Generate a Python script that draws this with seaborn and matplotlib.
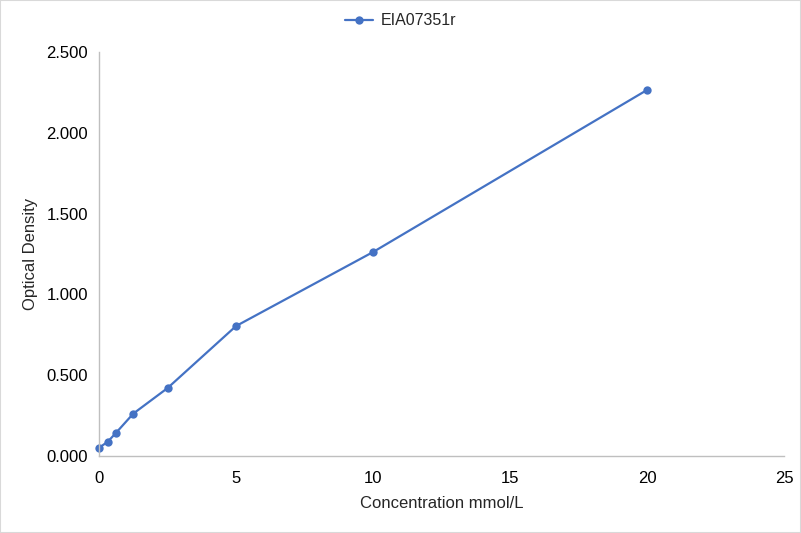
import matplotlib
matplotlib.use('Agg')
import seaborn as sns
import pandas as pd
from matplotlib import pyplot as plt

# standard curve data
concentration = [0, 0.3125, 0.625, 1.25, 2.5, 5, 10, 20]
optical_density = [0.051, 0.087, 0.144, 0.262, 0.420, 0.804, 1.262, 2.265]
series_name = 'EIA07351r'
x_ticks = [0, 5, 10, 15, 20, 25]
y_ticks = [0, 0.5, 1.0, 1.5, 2.0, 2.5]

sns.set_style('white')
plt.rcParams['font.family'] = ['Liberation Sans', 'DejaVu Sans']

df = pd.DataFrame({'x': concentration, 'y': optical_density, 's': series_name})

fig = plt.figure(figsize=(8.01, 5.33), dpi=100)
ax = fig.add_axes([0.1236, 0.1445, 0.9788 - 0.1236, 0.9024 - 0.1445])
sns.lineplot(data=df, x='x', y='y', hue='s', palette=['#4472C4'], marker='o',
             markersize=6, markeredgewidth=0, linewidth=1.6, ax=ax)
for ln in ax.lines:
    ln.set_clip_on(False)

ax.set_xlim(0, 25)
ax.set_ylim(0, 2.5)
ax.set_xticks(x_ticks)
ax.set_yticks(y_ticks)
ax.set_yticklabels([f'{v:.3f}' for v in y_ticks])
ax.tick_params(axis='both', length=0, labelsize=12, colors='#000000')
ax.tick_params(axis='x', pad=11)
ax.tick_params(axis='y', pad=8)
ax.set_xlabel('Concentration mmol/L', fontsize=12, labelpad=7)
ax.set_ylabel('Optical Density', fontsize=12, labelpad=6)

for side in ['top', 'right']:
    ax.spines[side].set_visible(False)
for side in ['left', 'bottom']:
    ax.spines[side].set_color('#BFBFBF')
    ax.spines[side].set_linewidth(1)

# legend is centred on the whole figure, not on the axes
handles, labels = ax.get_legend_handles_labels()
ax.get_legend().remove()
fig.legend(handles, labels, loc='lower center', bbox_to_anchor=(0.5, 0.935),
           frameon=False, fontsize=11.5, handlelength=1.75, handletextpad=0.45,
           borderaxespad=0)

# thin border around the whole figure
fig.patches.append(plt.Rectangle((0, 0), 1, 1, transform=fig.transFigure,
                                 fill=False, edgecolor='#D9D9D9', linewidth=1.5))

fig.savefig('out.png', dpi=100)
